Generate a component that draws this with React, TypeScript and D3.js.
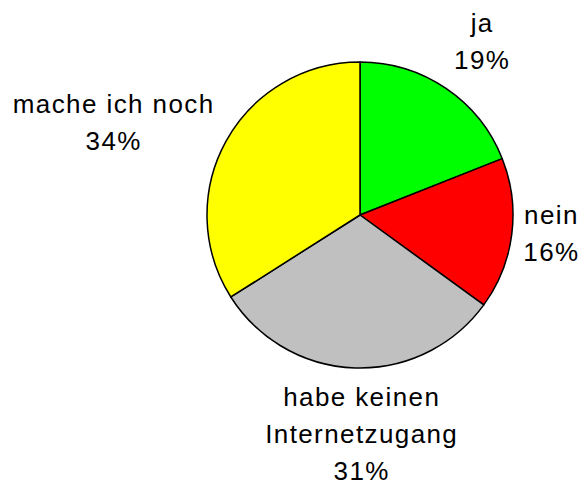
import React from 'react';
import * as d3 from 'd3';

const categories = ['ja', 'nein', 'habe keinen Internetzugang', 'mache ich noch'];
const values = [19, 16, 31, 34];
const labelLines = [['ja', '19%'], ['nein', '16%'], ['habe keinen', 'Internetzugang', '31%'], ['mache ich noch', '34%']];
const colors = ['#00ff00', '#ff0000', '#c0c0c0', '#ffff00'];

// small hand nudges so labels sit where the original put them
const nudges: [number, number][] = [[14, 0], [-6, -8], [10, -9], [-15, 9]];

const width = 582, height = 486;
const cx = 360, cy = 215, r = 153;
const fontSize = 26, lineH = 37;

export default function App() {
    const pie = d3.pie<number>().sort(null).value(d => d)(values);
    const arc = d3.arc<d3.PieArcDatum<number>>().innerRadius(0).outerRadius(r);

    const measure = (s: string) => s.length * fontSize * 0.5;

    return (
        <svg width={width} height={height}
            style={{ position: 'fixed', left: 0, top: 0, background: '#fff' }}
            fontFamily="'Liberation Sans', Arial, sans-serif">
            <g transform={`translate(${cx},${cy})`}>
                {pie.map((p, i) => (
                    <path key={categories[i]} d={arc(p) || ''} fill={colors[i]} stroke="#000" strokeWidth={1.5} strokeLinejoin="round" />
                ))}
            </g>
            {pie.map((p, i) => {
                const a = (p.startAngle + p.endAngle) / 2;
                const s = Math.sin(a), c = Math.cos(a);
                const lines = labelLines[i];
                const hw = d3.max(lines, measure)! / 2;
                const hh = lines.length * lineH / 2;
                const x = cx + (r + 20) * s + s * hw + nudges[i][0];
                const meanBase = cy - (r + 20) * c - c * hh + 9 + nudges[i][1];
                const first = meanBase - (lines.length - 1) * lineH / 2;
                return (
                    <text key={'l' + i} textAnchor="middle" fontSize={fontSize} letterSpacing={1.4} fill="#000">
                        {lines.map((t, j) => (
                            <tspan key={j} x={x} y={first + j * lineH}>{t}</tspan>
                        ))}
                    </text>
                );
            })}
        </svg>
    );
}
